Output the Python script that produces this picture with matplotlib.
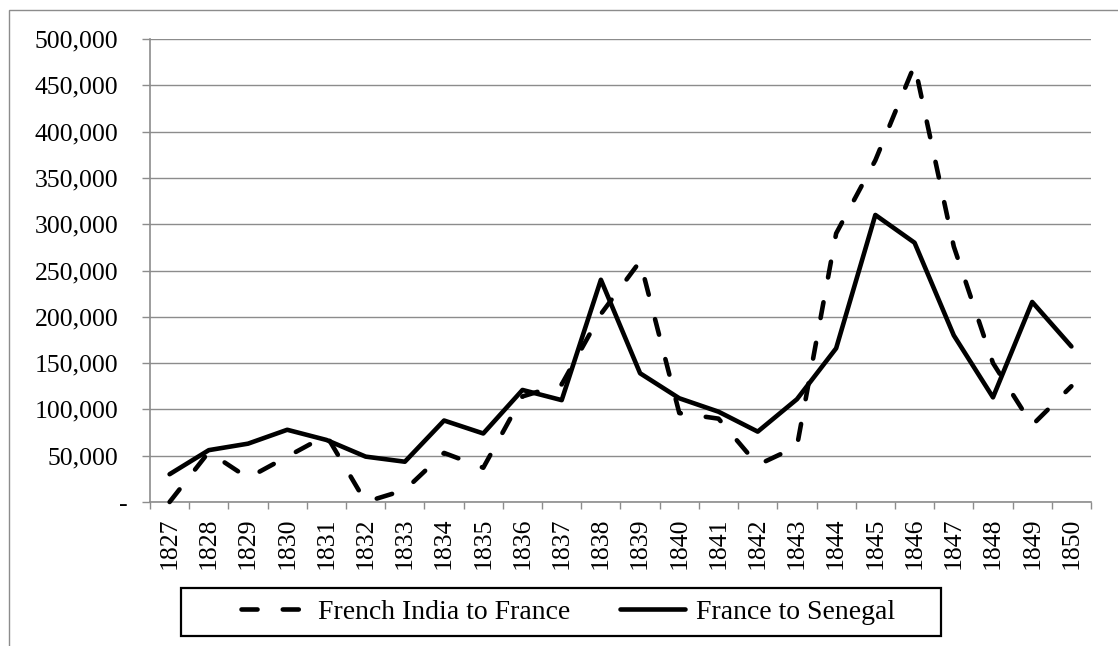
import numpy as np
import matplotlib
matplotlib.use('Agg')
import matplotlib.pyplot as plt
from matplotlib.patches import Rectangle
import matplotlib.transforms as mtransforms

years = [str(y) for y in range(1827, 1851)]
india_to_france = [0, 54000, 26000, 49000, 72000, 0, 13000, 53000, 37000, 114000,
                   127000, 203000, 260000, 96000, 90000, 40000, 60000, 290000,
                   369000, 472000, 276000, 150000, 83000, 125000]
france_to_senegal = [30000, 56000, 63000, 78000, 67000, 49000, 43500, 88000, 74000,
                     121000, 110000, 240000, 139000, 112000, 97500, 76000, 111000,
                     166000, 310000, 280000, 180000, 113000, 216000, 168000]
series_names = ["French India to France", "France to Senegal"]
y_ticks = list(range(0, 500001, 50000))

W, H = 1118, 646
GRAY = '#8c8c8c'
plt.rcParams['font.family'] = ['Liberation Serif', 'DejaVu Serif']

fig = plt.figure(figsize=(W / 100, H / 100), dpi=100)
fig.patch.set_facecolor('white')

# outer chart border (extends past right/bottom edges)
fig.patches.append(Rectangle((9 / W, -0.2), 1.2, (H - 9.5) / H + 0.2,
                             transform=fig.transFigure, fill=False,
                             edgecolor=GRAY, linewidth=1.0))

ax = fig.add_axes([150 / W, (H - 502) / H, 941 / W, 463 / H])
x = np.arange(len(years))

l1, = ax.plot(x, india_to_france, color='black', lw=3.3, dashes=(3.5, 5.5),
              dash_capstyle='round', solid_joinstyle='round', clip_on=False,
              label=series_names[0], zorder=3)
l2, = ax.plot(x, france_to_senegal, color='black', lw=3.3,
              solid_capstyle='round', solid_joinstyle='round', clip_on=False,
              label=series_names[1], zorder=3)

ax.set_xlim(-0.5, len(years) - 0.5)
ax.set_ylim(0, 500000)

ax.set_xticks(x)
ax.set_xticklabels(years, rotation=90, fontsize=18.5)
ax.set_xticks(np.arange(-0.5, len(years), 1.0), minor=True)
ax.tick_params(axis='x', which='major', length=0, pad=11.5)
ax.tick_params(axis='x', which='minor', length=5, width=1.0, color=GRAY, direction='out')

ax.set_yticks(y_ticks)
ax.set_yticklabels(['-' if v == 0 else f'{v:,}' for v in y_ticks], fontsize=18.5)
ax.tick_params(axis='y', which='major', length=5.8, width=1.0, color=GRAY, pad=17)
zero_lbl = ax.yaxis.get_major_ticks()[0].label1
zero_lbl.set_transform(zero_lbl.get_transform() +
                       mtransforms.ScaledTranslation(9 / 100, 0, fig.dpi_scale_trans))

ax.yaxis.grid(True, color=GRAY, linewidth=1.0)
ax.set_axisbelow(True)
for s in ['top', 'right']:
    ax.spines[s].set_visible(False)
for s in ['left', 'bottom']:
    ax.spines[s].set_color(GRAY)
    ax.spines[s].set_linewidth(1.2)

# legend box
lx0, lx1, ly0, ly1 = 181, 941, 588, 636
fig.patches.append(Rectangle((lx0 / W, (H - ly1) / H), (lx1 - lx0) / W, (ly1 - ly0) / H,
                             transform=fig.transFigure, fill=False,
                             edgecolor='black', linewidth=1.6))
fig.legend(handles=[l1, l2], loc='center', ncol=2, frameon=False,
           bbox_to_anchor=((lx0 + lx1) / 2 / W + 0.0067, (H - (ly0 + ly1) / 2) / H),
           fontsize=20, handlelength=2.35, handletextpad=0.4, columnspacing=1.8)

fig.savefig('out.png', dpi=100)
